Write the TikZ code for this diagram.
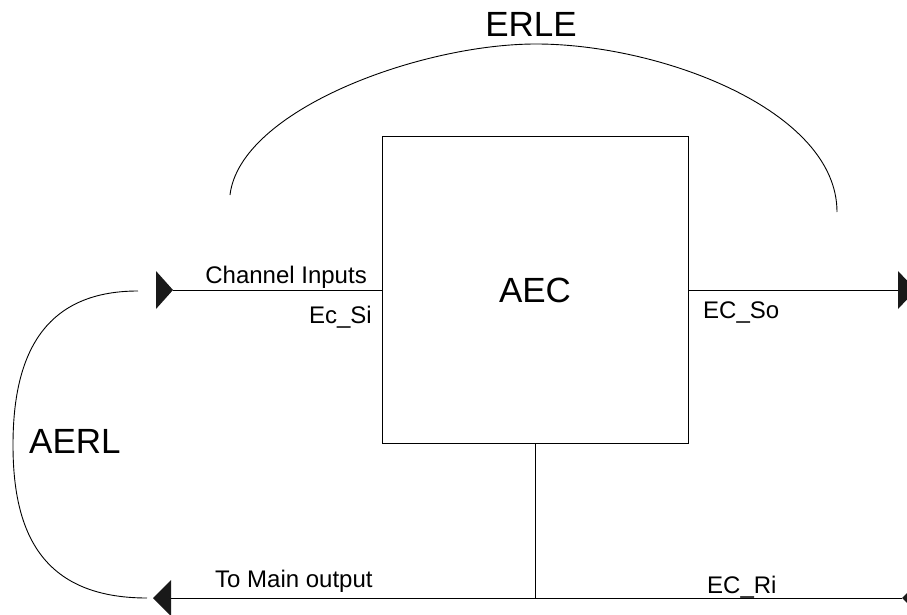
\documentclass[tikz,border=0pt]{standalone}
\usepackage{fontspec}
\setmainfont{Liberation Sans}
\begin{document}
\begin{tikzpicture}[x=1pt,y=-1pt,
  conn/.style={line width=1pt,black},
  curve/.style={line width=0.9pt,black},
  tip/.style={fill=black!90},
  big/.style={font=\fontsize{35}{42}\selectfont,inner sep=0pt},
  small/.style={font=\fontsize{24}{29}\selectfont,inner sep=0pt}]
\useasboundingbox (0,0) rectangle (907,615);
% main block
\node[draw,line width=1pt,minimum width=306pt,minimum height=306pt,inner sep=0pt,
  font=\fontsize{35}{42}\selectfont] (aec) at (535,290) {AEC};
% coordinates
\coordinate (inTip) at (173,290);
\coordinate (outBase) at (898,290);
\coordinate (junc) at (535,598);
\coordinate (mainTip) at (153,598);
\coordinate (mainBase) at (171,598);
\coordinate (riTip) at (902,598);
\coordinate (erleL) at (230,195);
\coordinate (erleR) at (837,212);
\coordinate (aerlT) at (138,291);
\coordinate (aerlB) at (147,598);
% connectors
\draw[conn] (inTip) -- (aec.west);
\fill[tip] (inTip) -- ++(-17,-19) -- ++(0,38) -- cycle;
\draw[conn] (aec.east) -- (outBase);
\fill[tip] (outBase) ++(0,-19) -- ++(18,19) -- ++(-18,19) -- cycle;
\draw[conn] (aec.south) -- (junc);
\draw[conn] (mainBase) -- (riTip);
\fill[tip] (mainTip) -- ++(18,-18) -- ++(0,36) -- cycle;
\fill[tip] (riTip) -- ++(18,-18) -- ++(0,36) -- cycle;
% ERLE arc
\draw[curve] (erleL) .. controls (240,110) and (420,44) .. (536,44)
  .. controls (660,44) and (837,110) .. (erleR);
% AERL arc
\draw[curve] (aerlT) .. controls (40,291) and (13,360) .. (13,445)
  .. controls (13,530) and (40,598) .. (aerlB);
% labels
\node[big,anchor=base] (erle) at (531,37) {ERLE};
\node[big,anchor=base west] (aerl) at (29,453) {AERL};
\node[small,anchor=base east] (chin) at (367,283) {Channel Inputs};
\node[small,anchor=base east] (ecsi) at (372,323) {Ec\_Si};
\node[small,anchor=base west] (ecso) at (703,318) {EC\_So};
\node[small,anchor=base west] (tomain) at (215,587) {To Main output};
\node[small,anchor=base west] (ecri) at (707,593) {EC\_Ri};
\end{tikzpicture}
\end{document}
